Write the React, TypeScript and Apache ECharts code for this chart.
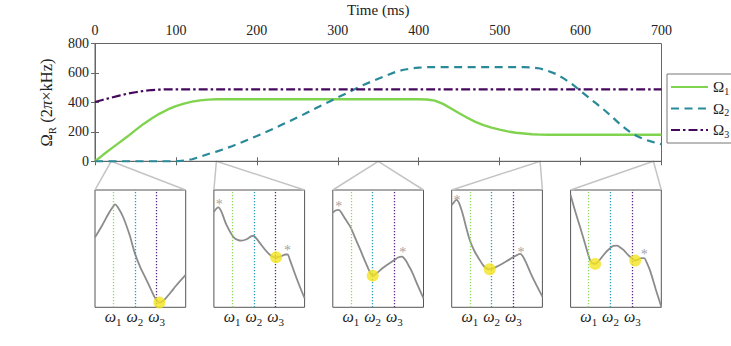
import React, { useEffect, useRef } from 'react';
import * as echarts from 'echarts';

const FONT = '"Liberation Serif", "DejaVu Serif", serif';

// ---- main panel data (time in ms, Omega_R in 2pi x kHz) ----
const omega1: number[][] = [
  [0, 0], [10, 44], [20, 86], [30, 127], [40, 168], [50, 212], [60, 254], [70, 290], [80, 324], [90, 352],
  [100, 375], [110, 392], [120, 405], [130, 414], [140, 419], [150, 421], [400, 421], [410, 420], [420, 412],
  [430, 390], [440, 358], [450, 326], [460, 296], [470, 268], [480, 246], [490, 229], [500, 215], [510, 203],
  [520, 194], [530, 189], [540, 184], [550, 181], [560, 180], [700, 180],
];
const omega2: number[][] = [
  [0, 0], [100, 0], [110, 5], [120, 14], [130, 30], [140, 50], [150, 66], [160, 84], [170, 104], [180, 126],
  [190, 149], [200, 172], [210, 196], [220, 220], [230, 246], [240, 272], [250, 298], [260, 324], [270, 352],
  [280, 380], [290, 406], [300, 434], [310, 460], [320, 488], [330, 514], [340, 538], [350, 560], [360, 582],
  [370, 604], [380, 620], [390, 630], [400, 636], [410, 639], [530, 639], [540, 638], [550, 630], [560, 614],
  [570, 592], [580, 560], [590, 522], [600, 478], [610, 433], [620, 390], [630, 345], [640, 296], [650, 246],
  [660, 204], [670, 170], [680, 146], [690, 130], [700, 116],
];
const omega3: number[][] = [
  [0, 403], [10, 418], [20, 432], [30, 446], [40, 459], [50, 469], [60, 478], [70, 484], [80, 487], [90, 489], [700, 489],
];
const seriesNames = ['Ω1', 'Ω2', 'Ω3'];
const seriesColors = ['#7fd34e', '#2a8a99', '#46085c'];

// ---- snapshot insets (normalised 0..100 coordinates) ----
const snapshotTimes = [20, 150, 350, 550, 690];
const omegaPositions = [20, 44, 68];
const omegaLineColors = ['#8fd860', '#2f9fb8', '#5b2a86'];

const inset1Curve: number[][] = [
  [0, 59.7], [8, 70], [15, 80], [20, 86], [22, 87.8], [25, 85.5], [31, 77], [38, 62], [44, 46], [50, 34],
  [57, 23], [63, 13], [67, 7], [71, 4], [76, 6], [82.7, 12], [90, 19], [100, 27.6],
];
const inset2Curve: number[][] = [
  [0, 81.5], [4.8, 85.2], [8, 82], [14, 70], [21.4, 60], [26, 57.5], [30.6, 56.8], [36, 58], [41, 60.5],
  [43.5, 61], [47, 58.5], [51, 54.5], [56, 49.5], [60, 46], [64, 43.5], [68.6, 42.6], [75, 43.8], [79, 45],
  [81.2, 45], [84, 40], [87.8, 31.8], [94, 19], [100, 7.7],
];
const inset3Curve: number[][] = [
  [0, 80.7], [3, 82.5], [6.6, 83], [10, 80], [14, 75], [19.4, 68.5], [25, 58.5], [30.4, 48.9], [36, 38.5],
  [40.7, 30.4], [44, 27], [50, 30], [55, 33.5], [59.7, 36], [67.8, 40.3], [72, 42.5], [76.2, 43.2], [80, 40.5],
  [84, 35], [87.2, 30.4], [94, 18], [100, 7.7],
];
const inset4Curve: number[][] = [
  [0, 87.2], [2.5, 89.5], [5.1, 91.5], [8, 89], [12, 80], [16, 68], [19.9, 57.4], [25, 48], [30.9, 40.3],
  [35, 35.5], [38.2, 33.2], [41.9, 32.4], [48, 34], [56.6, 37.5], [62, 40], [67.6, 42.6], [72, 44.5], [75, 45.5],
  [78, 44], [82, 38], [87.1, 29], [94, 18], [100, 9.1],
];
const inset5Curve: number[][] = [
  [0, 95.7], [5, 82], [10.3, 68.8], [16, 54], [21.4, 40.3], [24, 37.5], [27, 37], [30.5, 39], [34.3, 42.6],
  [39, 47], [43.5, 50.3], [47, 52.3], [51, 52.6], [54, 51.5], [58.3, 48.9], [63, 45], [67.5, 41.8], [71.2, 39.8],
  [74, 40.5], [76.8, 41.8], [79, 42], [81.5, 41.8], [84, 38], [88, 30.4], [94, 15], [100, 0.5],
];
const insetCurves = [inset1Curve, inset2Curve, inset3Curve, inset4Curve, inset5Curve];
const insetMinima: number[][][] = [
  [[71, 4]],
  [[68.6, 42.6]],
  [[44, 27]],
  [[41.9, 32.4]],
  [[27, 37], [71.2, 39.8]],
];
const insetStars: number[][][] = [
  [],
  [[5.9, 90], [81.2, 51]],
  [[6.6, 88.6], [77, 48.9]],
  [[5.9, 93.8], [76.5, 49.7]],
  [[81.2, 47.4]],
];

const INSET_LEFT0 = 95;
const INSET_STEP = 118.9;
const INSET_TOP = 190;
const INSET_W = 90.7;
const INSET_H = 117.3;

function buildOption(): any {
  const grids: any[] = [
    { left: 95, top: 43.5, width: 566.5, height: 117.8, show: true, borderColor: '#666', borderWidth: 1, backgroundColor: 'transparent' },
  ];
  for (let i = 0; i < 5; i++) {
    grids.push({
      left: INSET_LEFT0 + i * INSET_STEP, top: INSET_TOP, width: INSET_W, height: INSET_H,
      show: true, borderColor: '#555', borderWidth: 1, backgroundColor: 'transparent',
    });
  }
  const tickStyle = { show: true, inside: true, length: 4, lineStyle: { color: '#666', width: 1 } };
  const xAxes: any[] = [
    {
      gridIndex: 0, type: 'value', position: 'top', min: 0, max: 700, interval: 100,
      axisLine: { show: true, lineStyle: { color: '#666' } }, axisTick: tickStyle,
      axisLabel: { fontFamily: FONT, fontSize: 14, color: '#222', margin: 6 },
      splitLine: { show: false },
      name: 'Time (ms)', nameLocation: 'middle', nameGap: 26,
      nameTextStyle: { fontFamily: FONT, fontSize: 15, color: '#222' },
    },
    {
      gridIndex: 0, type: 'value', position: 'bottom', min: 0, max: 700, interval: 100,
      axisLine: { show: true, lineStyle: { color: '#666' } }, axisTick: tickStyle,
      axisLabel: { show: false }, splitLine: { show: false },
    },
  ];
  const yAxes: any[] = [
    {
      gridIndex: 0, type: 'value', position: 'left', min: 0, max: 800, interval: 200,
      axisLine: { show: true, lineStyle: { color: '#666' } }, axisTick: tickStyle,
      axisLabel: { fontFamily: FONT, fontSize: 14, color: '#222', margin: 6 },
      splitLine: { show: false },
      name: 'Ω{s|R} (2{i|π}×kHz)', nameLocation: 'middle', nameGap: 33,
      nameTextStyle: {
        fontFamily: FONT, fontSize: 16.5, color: '#222', lineHeight: 22,
        rich: {
          s: { fontFamily: FONT, fontSize: 11, color: '#222', lineHeight: 10, verticalAlign: 'bottom' },
          i: { fontFamily: FONT, fontSize: 16.5, color: '#222', fontStyle: 'italic', lineHeight: 22 },
        },
      },
    },
    {
      gridIndex: 0, type: 'value', position: 'right', min: 0, max: 800, interval: 200,
      axisLine: { show: true, lineStyle: { color: '#666' } }, axisTick: tickStyle,
      axisLabel: { show: false }, splitLine: { show: false },
    },
  ];
  const labelMap: Record<number, string> = {};
  omegaPositions.forEach((p, k) => { labelMap[p] = `{w|ω}{s|${k + 1}}`; });
  for (let i = 0; i < 5; i++) {
    xAxes.push({
      gridIndex: i + 1, type: 'value', min: 0, max: 100,
      axisLine: { show: false }, axisTick: { show: false }, splitLine: { show: false },
      axisLabel: {
        show: true, customValues: omegaPositions, margin: -2,
        formatter: (v: number) => labelMap[Math.round(v)] || '',
        rich: {
          w: { fontFamily: FONT, fontStyle: 'italic', fontSize: 16, color: '#222', lineHeight: 22 },
          s: { fontFamily: FONT, fontSize: 11, color: '#222', lineHeight: 11, verticalAlign: 'bottom' },
        },
      },
    });
    yAxes.push({ gridIndex: i + 1, type: 'value', min: 0, max: 100, show: false });
  }

  const series: any[] = [
    {
      name: seriesNames[0], type: 'line', xAxisIndex: 1, yAxisIndex: 0, data: omega1, symbol: 'none',
      lineStyle: { color: seriesColors[0], width: 2.4, type: 'solid' }, itemStyle: { color: seriesColors[0] }, z: 3,
    },
    {
      name: seriesNames[1], type: 'line', xAxisIndex: 1, yAxisIndex: 0, data: omega2, symbol: 'none',
      lineStyle: { color: seriesColors[1], width: 2.2, type: [8, 5.5] }, itemStyle: { color: seriesColors[1] }, z: 3,
    },
    {
      name: seriesNames[2], type: 'line', xAxisIndex: 1, yAxisIndex: 0, data: omega3, symbol: 'none',
      lineStyle: { color: seriesColors[2], width: 2.2, type: [9, 3, 2.5, 3] }, itemStyle: { color: seriesColors[2] }, z: 3,
    },
  ];
  for (let i = 0; i < 5; i++) {
    series.push({
      type: 'line', xAxisIndex: i + 2, yAxisIndex: i + 2, data: insetCurves[i], symbol: 'none', smooth: 0.3,
      lineStyle: { color: '#8c8c8c', width: 1.8 }, z: 3, silent: true,
      markLine: {
        silent: true, symbol: ['none', 'none'], label: { show: false },
        data: omegaPositions.map((x, k) => ({
          xAxis: x, lineStyle: { color: omegaLineColors[k], type: [1.2, 1.8], width: 1.3 },
        })),
      },
    });
    series.push({
      type: 'scatter', xAxisIndex: i + 2, yAxisIndex: i + 2, data: insetMinima[i], symbolSize: 12,
      itemStyle: { color: '#f2e41f' }, z: 5, silent: true,
    });
    series.push({
      type: 'scatter', xAxisIndex: i + 2, yAxisIndex: i + 2, data: insetStars[i], symbolSize: 1,
      itemStyle: { color: 'rgba(0,0,0,0)' }, z: 5, silent: true,
      label: { show: true, formatter: '*', position: 'inside', offset: [0, 3], fontFamily: FONT, fontSize: 14, color: '#888' },
    });
  }

  return {
    animation: false,
    backgroundColor: '#ffffff',
    grid: grids,
    xAxis: xAxes,
    yAxis: yAxes,
    legend: {
      data: seriesNames, orient: 'vertical', left: 667, top: 74,
      itemWidth: 37, itemHeight: 14, itemGap: 3.5,
      padding: [4, 4, 4, 3],
      borderColor: '#777', borderWidth: 1, backgroundColor: '#fff',
      itemStyle: { opacity: 0 },
      formatter: (n: string) => `Ω{s|${n.slice(1)}}`,
      textStyle: {
        fontFamily: FONT, fontSize: 15, color: '#222', lineHeight: 18,
        rich: { s: { fontFamily: FONT, fontSize: 10, color: '#222', lineHeight: 10, verticalAlign: 'bottom' } },
      },
    },
    series,
  };
}

export default function App() {
  const ref = useRef<HTMLDivElement>(null);
  useEffect(() => {
    const chart = echarts.init(ref.current!, null, { renderer: 'svg' });
    chart.setOption(buildOption());
    const graphic = snapshotTimes.map((t, i) => {
      const p = chart.convertToPixel({ xAxisIndex: 1, yAxisIndex: 0 } as any, [t, 0]) as number[];
      const l = chart.convertToPixel({ xAxisIndex: i + 2, yAxisIndex: i + 2 } as any, [0, 100]) as number[];
      const r = chart.convertToPixel({ xAxisIndex: i + 2, yAxisIndex: i + 2 } as any, [100, 100]) as number[];
      return {
        type: 'polyline', silent: true, z: 0,
        shape: { points: [l, p, r] },
        style: { stroke: '#c4c4c4', lineWidth: 1.5, fill: 'none' },
      };
    });
    chart.setOption({ graphic });
    return () => chart.dispose();
  }, []);
  return <div ref={ref} style={{ position: 'fixed', left: 0, top: 0, width: 731, height: 346 }} />;
}
